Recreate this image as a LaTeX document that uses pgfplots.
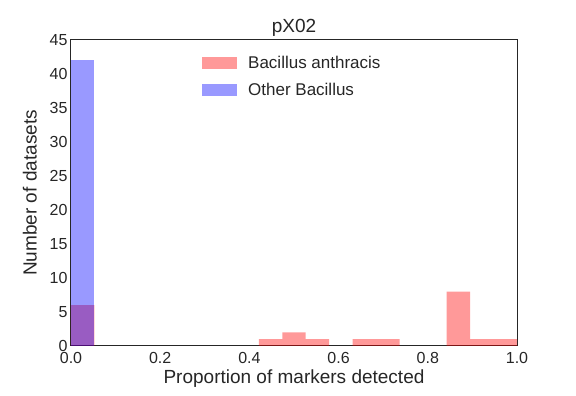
\documentclass[border=0pt]{standalone}
\usepackage{pgfplots}
\pgfplotsset{compat=1.18}
\usepackage{fontspec}
\setmainfont{Liberation Sans}
\definecolor{txt}{RGB}{38,38,38}
\begin{document}
\begin{tikzpicture}
\begin{axis}[
  at={(0pt,0pt)}, anchor=south west,
  scale only axis, width=446pt, height=306pt,
  xmin=0, xmax=1, ymin=0, ymax=45,
  xtick={0,0.2,0.4,0.6,0.8,1.0},
  ytick={0,5,...,45},
  major tick length=0pt,
  /pgf/number format/assume math mode=true,
  xticklabel style={/pgf/number format/fixed, /pgf/number format/fixed zerofill, /pgf/number format/precision=1, yshift=-3pt},
  tick label style={font=\fontsize{16}{18}\selectfont, text=txt},
  axis line style={draw=txt, line width=1pt},
  xlabel={Proportion of markers detected},
  ylabel={Number of datasets},
  label style={font=\fontsize{19}{22}\selectfont, text=txt},
  title={pX02},
  title style={font=\fontsize{19}{22}\selectfont, text=txt, yshift=-6pt},
  xlabel style={yshift=1pt},
  ylabel style={yshift=6pt},
  ybar, bar width=0.0526316, bar shift=0pt,
  legend style={draw=none, fill=none, at={(axis description cs:0.287,0.96)}, anchor=north west, font=\fontsize{17}{20}\selectfont, text=txt, row sep=9pt, column sep=9pt},
  legend cell align=left,
  legend image code/.code={\fill[#1] (0pt,-6pt) rectangle (35pt,6pt);},
]
\addplot[draw=none, fill=red, fill opacity=0.4] coordinates {
(0.026316,6) (0.447368,1) (0.500000,2) (0.552632,1) (0.657895,1) (0.710526,1)
(0.868421,8) (0.921053,1) (0.973684,1)
};
\addlegendentry{Bacillus anthracis}
\addplot[draw=none, fill=blue, fill opacity=0.4] coordinates {
(0.026316,42)
};
\addlegendentry{Other Bacillus}
\end{axis}
\path[use as bounding box] (-71pt,-50pt) rectangle (505pt,346pt);
\end{tikzpicture}
\end{document}
